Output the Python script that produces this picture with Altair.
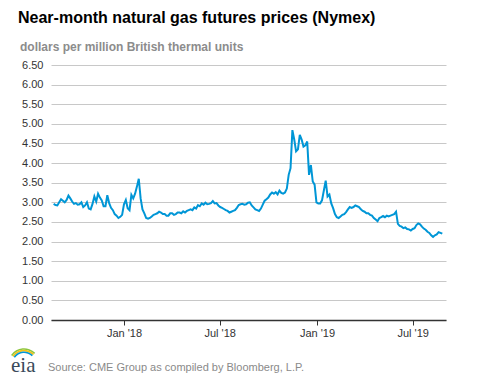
import altair as alt
import pandas as pd

TITLE = "Near-month natural gas futures prices (Nymex)"
SUBTITLE = "dollars per million British thermal units"
SOURCE = "Source: CME Group as compiled by Bloomberg, L.P."

START = "2017-08-21"
# twice-weekly readings (Mon / mid-week), dollars per MMBtu
prices = [
    2.96, 2.93, 2.92, 3.00,                                   # Aug 2017
    3.08, 3.04, 3.00, 3.06, 3.17, 3.10, 3.02, 2.96,           # Sep
    2.98, 2.94, 2.95, 3.00, 2.88, 2.92, 3.00, 2.84, 2.82, 2.96,  # Oct
    3.15, 3.02, 3.22, 3.12, 3.05, 2.90, 2.90, 3.18,           # Nov
    2.98, 2.86, 2.80, 2.70, 2.66, 2.60, 2.63, 2.68,           # Dec
    2.95, 3.06, 2.85, 2.80, 3.19, 3.10, 3.22, 3.40, 3.60, 3.10,  # Jan 2018
    2.82, 2.72, 2.60, 2.58, 2.60, 2.64, 2.68, 2.70,           # Feb
    2.72, 2.76, 2.74, 2.70, 2.70, 2.66, 2.66, 2.72,           # Mar
    2.72, 2.68, 2.70, 2.74, 2.74, 2.72, 2.77, 2.74, 2.78, 2.80,  # Apr
    2.82, 2.80, 2.87, 2.84, 2.93, 2.90, 2.97, 2.94,           # May
    2.99, 2.95, 2.96, 2.98, 3.03, 2.97, 2.98, 2.92,           # Jun
    2.88, 2.86, 2.83, 2.80, 2.78, 2.74, 2.76, 2.78, 2.80, 2.86,  # Jul
    2.93, 2.95, 2.96, 2.94, 2.95, 2.99, 3.00, 2.92,           # Aug
    2.87, 2.82, 2.80, 2.78, 2.84, 2.94, 3.04, 3.08,           # Sep
    3.12, 3.20, 3.25, 3.22, 3.26, 3.20, 3.30, 3.24, 3.22, 3.25,  # Oct
    3.35, 3.70, 3.87, 4.84, 4.60, 4.30, 4.35, 4.72,           # Nov
    4.60, 4.42, 4.45, 4.55, 3.70, 3.95, 3.53, 3.45, 3.00, 2.97,  # Dec
    2.97, 3.05, 3.30, 3.55, 3.15, 3.20, 2.97, 2.85,           # Jan 2019
    2.70, 2.62, 2.60, 2.64, 2.68, 2.70, 2.75, 2.82,           # Feb
    2.88, 2.86, 2.88, 2.92, 2.90, 2.88, 2.82, 2.78,           # Mar
    2.76, 2.72, 2.72, 2.68, 2.66, 2.60, 2.56, 2.52, 2.60, 2.62,  # Apr
    2.65, 2.62, 2.66, 2.64, 2.66, 2.68, 2.70, 2.76,           # May
    2.45, 2.40, 2.38, 2.34, 2.36, 2.32, 2.31, 2.28,           # Jun
    2.32, 2.34, 2.42, 2.46, 2.44, 2.38, 2.33, 2.30, 2.25, 2.22,  # Jul
    2.16, 2.12, 2.16, 2.18, 2.24, 2.22, 2.20,                 # Aug
]

y_ticks = [0.0, 0.5, 1.0, 1.5, 2.0, 2.5, 3.0, 3.5, 4.0, 4.5, 5.0, 5.5, 6.0, 6.5]
x_ticks = [(2018, 1), (2018, 7), (2019, 1), (2019, 7)]

df = pd.DataFrame({
    "date": pd.date_range(START, periods=len(prices), freq="84h"),
    "price": prices,
})

x_scale = alt.Scale(domain=[alt.DateTime(year=2017, month=8, date=16),
                            alt.DateTime(year=2019, month=9, date=2)])
y_scale = alt.Scale(domain=[0, 6.5], nice=False)

line = alt.Chart(df).mark_line(color="#0096d6", strokeWidth=2).encode(
    x=alt.X("date:T", scale=x_scale, title=None,
            axis=alt.Axis(values=[alt.DateTime(year=y, month=m, date=1) for y, m in x_ticks],
                          format="%b '%y", labelFont="Liberation Sans", labelFontSize=11,
                          labelColor="#333333", tickColor="#333333", tickSize=5,
                          labelPadding=2, domainColor="#333333", domainWidth=1.5,
                          grid=False)),
    y=alt.Y("price:Q", scale=y_scale, title=None,
            axis=alt.Axis(values=y_ticks, format=".2f", labelFont="Liberation Sans",
                          labelFontSize=11, labelColor="#333333", ticks=False,
                          domain=False, labelPadding=8, gridColor="#c8c8c8",
                          gridWidth=1)),
)


def text_layer(txt, x, y, size, color, weight="normal", font="Liberation Sans"):
    return alt.Chart(pd.DataFrame({"t": [txt]})).mark_text(
        align="left", baseline="alphabetic", font=font, fontSize=size,
        fontWeight=weight, color=color,
    ).encode(text="t:N", x=alt.value(x), y=alt.value(y))


title = text_layer(TITLE, -33, -42, 16, "#000000", "bold")
subtitle = text_layer(SUBTITLE, -31, -14.5, 12, "#8c8c8c", "bold")
source = text_layer(SOURCE, -3, 305.5, 11, "#8a8a8a")
logo_text = text_layer("eia", -40, 307, 21, "#3a4a5a", "normal", "Liberation Serif")


def arc_layer(r1, r2, color):
    return alt.Chart(pd.DataFrame({"a": [1]})).mark_arc(
        theta=5.32, theta2=7.07, radius=r2, radius2=r1, color=color,
    ).encode(x=alt.value(-27), y=alt.value(299))


arcs = [arc_layer(14.2, 15.8, "#8cc63f"), arc_layer(12.6, 14.2, "#f4c316"),
        arc_layer(11.0, 12.6, "#0096d6")]

chart = alt.layer(line, title, subtitle, source, logo_text, *arcs).properties(
    width=395, height=255,
    autosize=alt.AutoSizeParams(type="none"),
    padding={"left": 43, "top": 57, "right": 20, "bottom": 58},
).configure_view(stroke=None)

chart.save("out.html", embed_options={"renderer": "svg", "actions": False})
